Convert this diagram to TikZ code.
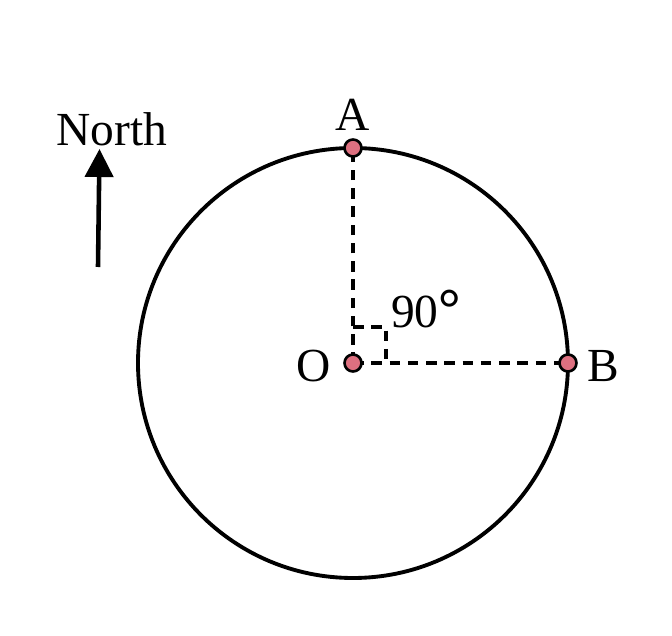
\documentclass[tikz,border=0pt]{standalone}
\usepackage{fontspec}
\setmainfont{Liberation Serif}
\usetikzlibrary{arrows.meta}
\definecolor{dotpink}{RGB}{222,112,128}

\begin{document}
\begin{tikzpicture}[
  pt/.style={circle,draw,line width=1.5pt,fill=dotpink,inner sep=0pt,minimum size=0.34cm},
  lbl/.style={font=\fontsize{27}{27}\selectfont,inner sep=0pt},
  dashln/.style={line width=2.1pt,dash pattern=on 6pt off 4.4pt}
]
\useasboundingbox (-7.06,-5.46) rectangle (6.38,7.26);

% Circle and its points
\draw[line width=2.2pt] (0,0) circle (4.3);
\coordinate (O) at (0,0);
\coordinate (A) at (0,4.3);
\coordinate (B) at (4.3,0);

% Dashed radii and right angle mark
\draw[dashln] (O)--(A);
\draw[dashln] (O)--(B);
\draw[dashln] (0,0.72)--(0.66,0.72)--(0.66,0);

% Points
\node[pt] (pA) at (A) {};
\node[pt] (pO) at (O) {};
\node[pt] (pB) at (B) {};

% Labels
\node[lbl,anchor=base] (lA) at (0,4.66) {A};
\node[lbl,anchor=base] (lO) at (-0.78,-0.36) {O};
\node[lbl,anchor=base] (lB) at (5.0,-0.36) {B};
\node[lbl,anchor=base] (ang) at (1.46,0.72) {90\textbf{\fontsize{32}{32}\selectfont °}};

% North arrow
\coordinate (s) at (-5.1,1.92);
\coordinate (t) at (-5.07,4.28);
\draw[line width=2.6pt,-{Triangle[width=0.56cm,length=0.56cm]}] (s)--(t);
\node[lbl,anchor=base] (north) at (-4.82,4.36) {North};

\end{tikzpicture}
\end{document}
